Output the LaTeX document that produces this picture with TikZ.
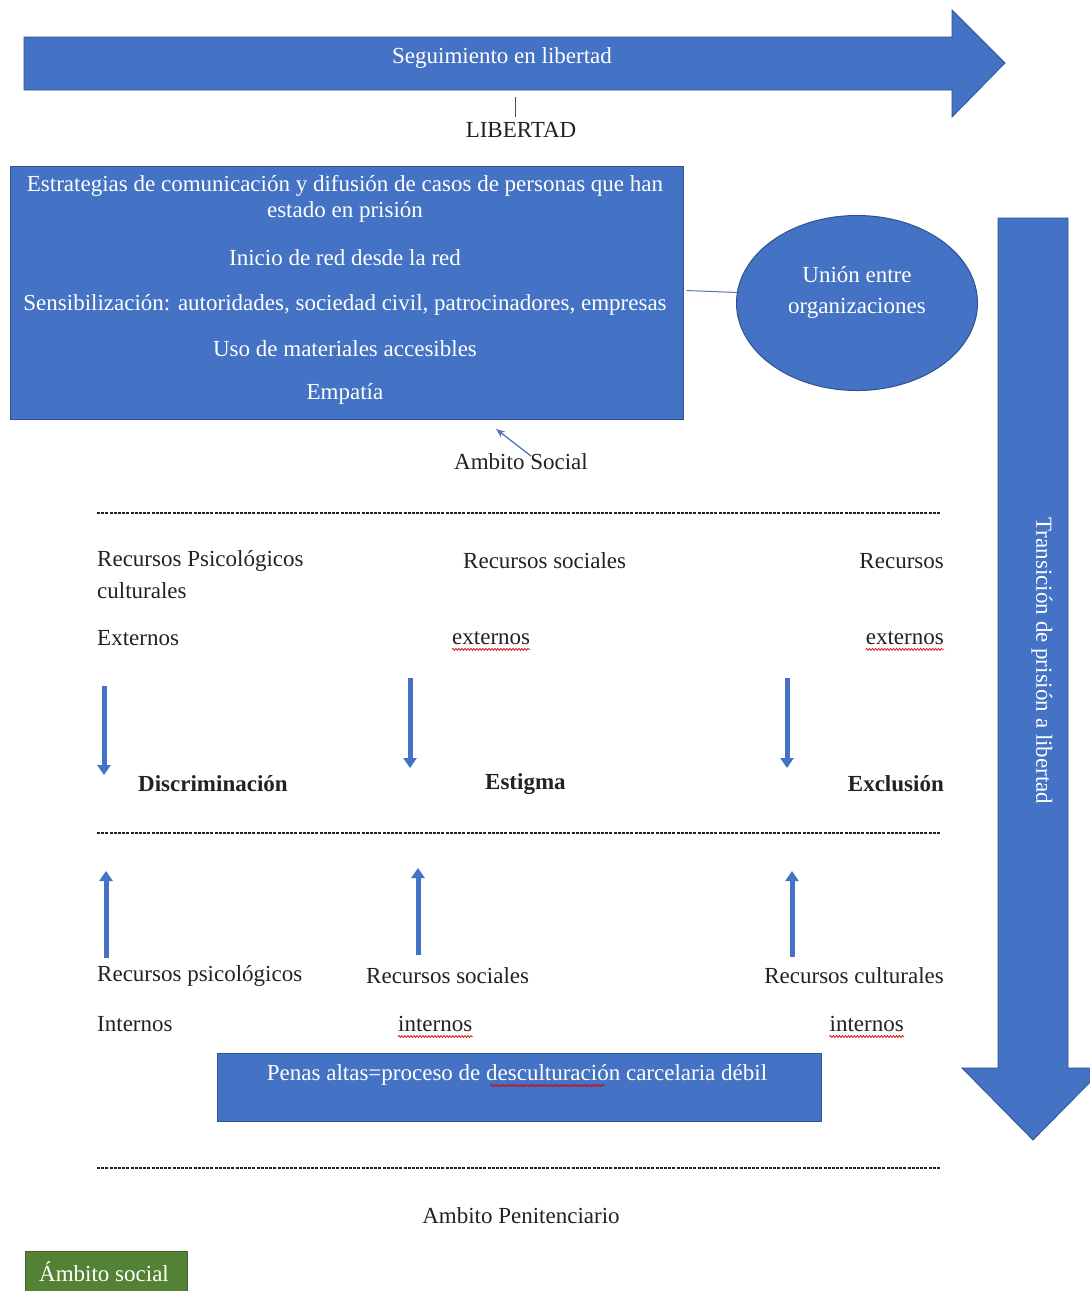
\documentclass[tikz,border=0pt]{standalone}
\usepackage{fontspec}
\setmainfont{Liberation Serif}
\usetikzlibrary{arrows.meta,shapes.geometric,decorations.pathmorphing,calc}
\definecolor{blu}{HTML}{4472C4}
\definecolor{bluedge}{HTML}{2F528F}
\definecolor{grn}{HTML}{548235}
\definecolor{grnedge}{HTML}{3F6328}
\definecolor{txt}{HTML}{222222}
\begin{document}
\begin{tikzpicture}[x=1pt,y=-1pt,
  every node/.style={font=\fontsize{23}{26}\selectfont, text=txt, inner sep=0pt},
  wtxt/.style={text=white},
  bluebox/.style={fill=blu, draw=bluedge, line width=1pt},
  dline/.style={draw=txt, line width=1.1pt, dash pattern=on 3pt off 1.2pt},
  smallarrow/.style={draw=blu, line width=5pt, -{Triangle[width=13pt,length=10pt]}},
  wavy/.style={draw=red!85!black, line width=0.7pt, decorate, decoration={snake, amplitude=1pt, segment length=3pt}},
  bt/.style={font=\fontsize{23}{26}\selectfont\bfseries}
]
\clip (0,0) rectangle (1090,1291);
\fill[white] (0,0) rectangle (1090,1291);

% top arrow
\filldraw[fill=blu, draw=bluedge, line width=0.8pt] (24,37) -- (952,37) -- (952,10) -- (1005,63) -- (952,117) -- (952,90) -- (24,90) -- cycle;
\node[wtxt] (seg) at (502,58) {Seguimiento en libertad};
\coordinate (libtop) at (515,97);
\node (lib) at (521,130) {LIBERTAD};
\draw[draw=black!70, line width=0.8pt] (libtop) -- (515,117);

% main box
\node[bluebox, minimum width=673pt, minimum height=253pt] (box) at (346.5,292.5) {};
\node[wtxt] (l1) at (345,186) {Estrategias de comunicación y difusión de casos de personas que han};
\node[wtxt] (l2) at (345,212) {estado en prisión};
\node[wtxt] (l3) at (345,258) {Inicio de red desde la red};
\node[wtxt] (l4) at (345,305) {Sensibilización: autoridades, sociedad civil, patrocinadores, empresas};
\node[wtxt] (l5) at (345,349) {Uso de materiales accesibles};
\node[wtxt] (l6) at (345,394) {Empatía};

% ellipse
\node[bluebox, ellipse, minimum width=241pt, minimum height=175pt] (ell) at (857,303) {};
\node[wtxt, align=center] (elltxt) at (857,292) {Unión entre\\[5pt]organizaciones};
\draw[draw=bluedge!80, line width=1pt] ($(box.east)+(3,-2)$) -- (ell.175);

% Ambito social label
\node (asoc) at (521,462) {Ambito Social};
\draw[draw=blu!80!gray, line width=1.3pt, -{Stealth[length=9pt,width=7pt]}] (531,456) -- (496,429);

% dashed lines
\draw[dline] (97,513) -- (940,513);
\draw[dline] (97,833) -- (940,833);
\draw[dline] (97,1168) -- (940,1168);

% external resources
\node[anchor=west] (rpc) at (97,561) {Recursos Psicológicos};
\node[anchor=west] (cul) at (97,591) {culturales};
\node[anchor=west] (ext1) at (97,638) {Externos};
\node[anchor=west] (rs) at (463,561) {Recursos sociales};
\node[anchor=west] (ext2) at (452,638) {externos};
\node[anchor=east] (rc) at (944,561) {Recursos};
\node[anchor=east] (ext3) at (944,638) {externos};
\draw[wavy] ($(ext2.base west)+(0,5)$) -- ($(ext2.base east)+(0,5)$);
\draw[wavy] ($(ext3.base west)+(0,5)$) -- ($(ext3.base east)+(0,5)$);

% down arrows
\coordinate (d1s) at (104,686); \coordinate (d1e) at (104,775);
\coordinate (d2s) at (410,678); \coordinate (d2e) at (410,768);
\coordinate (d3s) at (787,678); \coordinate (d3e) at (787,768);
\draw[smallarrow] (d1s) -- (d1e);
\draw[smallarrow] (d2s) -- (d2e);
\draw[smallarrow] (d3s) -- (d3e);

\node[bt, anchor=west] (disc) at (138,784) {Discriminación};
\node[bt, anchor=west] (est) at (485,784) {Estigma};
\node[bt, anchor=east] (exc) at (944,784) {Exclusión};

% up arrows
\coordinate (u1s) at (106,958); \coordinate (u1e) at (106,871);
\coordinate (u2s) at (418,955); \coordinate (u2e) at (418,868);
\coordinate (u3s) at (792,957); \coordinate (u3e) at (792,871);
\draw[smallarrow] (u1s) -- (u1e);
\draw[smallarrow] (u2s) -- (u2e);
\draw[smallarrow] (u3s) -- (u3e);

% internal resources
\node[anchor=west] (rpi) at (97,976) {Recursos psicológicos};
\node[anchor=west] (int1) at (97,1024) {Internos};
\node[anchor=west] (rsi) at (366,976) {Recursos sociales};
\node[anchor=west] (int2) at (398,1024) {internos};
\node[anchor=east] (rci) at (944,976) {Recursos culturales};
\node[anchor=east] (int3) at (904,1024) {internos};
\draw[wavy] ($(int2.base west)+(0,5)$) -- ($(int2.base east)+(0,5)$);
\draw[wavy] ($(int3.base west)+(0,5)$) -- ($(int3.base east)+(0,5)$);

% bottom box
\node[bluebox, minimum width=604pt, minimum height=68pt] (pen) at (519,1087) {};
\node[wtxt] (pentxt) at (517,1075) {Penas altas=proceso de desculturación carcelaria débil};
\path (pentxt.base west) -- (pentxt.base east) coordinate[pos=0.447] (wv1) coordinate[pos=0.675] (wv2);
\draw[wavy] ($(wv1)+(0,5)$) -- ($(wv2)+(0,5)$);

\node (apen) at (521,1216) {Ambito Penitenciario};

% green legend
\node[fill=grn, draw=grnedge, line width=1pt, minimum width=162pt, minimum height=46pt] (leg) at (106,1274) {};
\node[wtxt] (legtxt) at (104,1272) {Ámbito social};

% right arrow
\filldraw[fill=blu, draw=bluedge, line width=0.8pt] (998,218) -- (1068,218) -- (1068,1068) -- (1104,1068) -- (1033,1140) -- (962,1068) -- (998,1068) -- cycle;
\node[wtxt, rotate=-90] (trans) at (1042,661) {Transición de prisión a libertad};
\end{tikzpicture}
\end{document}
